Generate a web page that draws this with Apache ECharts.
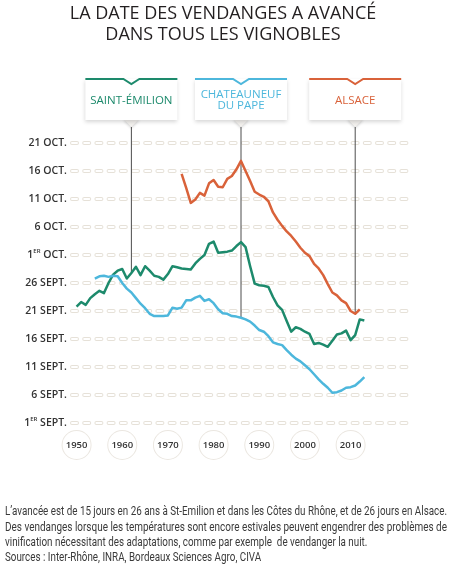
<!DOCTYPE html>
<html><head><meta charset="utf-8">
<script src="https://cdn.jsdelivr.net/npm/echarts@6/dist/echarts.min.js"></script>
<style>html,body{margin:0;padding:0;background:#fff}#c{width:460px;height:569px}</style>
</head><body><div id="c"></div>
<script>
// ---- DATA (day of harvest, counted from 1 Sept = 1) ----
const years = [1950,1951,1952,1953,1954,1955,1956,1957,1958,1959,
  1960,1961,1962,1963,1964,1965,1966,1967,1968,1969,
  1970,1971,1972,1973,1974,1975,1976,1977,1978,1979,
  1980,1981,1982,1983,1984,1985,1986,1987,1988,1989,
  1990,1991,1992,1993,1994,1995,1996,1997,1998,1999,
  2000,2001,2002,2003,2004,2005,2006,2007,2008,2009,
  2010,2011,2012,2013];
const stEmilion = [21.8,22.6,22.1,23.3,24.0,24.6,24.2,26.0,27.5,28.2,
  28.5,26.8,27.8,28.9,27.4,29.0,28.2,27.3,27.1,26.6,
  27.6,29.0,28.8,28.6,28.5,28.4,29.5,30.3,31.0,33.0,
  33.4,31.4,31.5,31.6,31.8,32.6,33.3,32.4,29.0,25.9,
  25.6,25.5,25.3,23.5,22.0,21.2,19.2,17.3,18.1,17.8,
  17.3,16.9,15.1,15.3,15.0,14.6,15.7,16.8,17.0,17.5,
  15.8,16.7,19.5,19.3];
const chateauneuf = [null,null,null,null,26.8,27.2,27.3,27.1,27.3,27.2,
  26.0,25.0,24.3,23.3,22.3,21.5,20.5,20.1,20.1,20.1,
  20.2,21.6,21.4,21.6,22.9,22.9,23.4,23.7,22.8,23.1,
  22.4,21.3,20.6,20.5,20.1,20.0,19.8,19.5,19.1,18.4,
  17.6,17.3,16.5,15.4,15.1,14.9,14.0,13.2,12.5,12.0,
  11.3,10.6,9.7,8.8,8.0,7.3,6.4,6.5,6.8,7.3,
  7.4,7.7,8.4,9.2];
const alsace = [null,null,null,null,null,null,null,null,null,null,
  null,null,null,null,null,null,null,null,null,null,
  null,null,null,45.5,43.0,40.3,40.9,42.1,41.6,43.8,
  44.4,43.2,43.1,44.6,45.1,46.3,47.8,46.0,44.2,42.3,
  41.8,41.4,40.6,38.6,37.3,36.2,35.2,34.4,33.4,32.3,
  31.4,30.8,29.4,28.6,27.4,25.8,24.3,23.8,22.9,22.4,
  21.0,20.5,21.3,null];
const yTickValues = [1,6,11,16,21,26,31,36,41,46,51];
const yTickLabels = ['1ER SEPT.','6 SEPT.','11 SEPT.','16 SEPT.','21 SEPT.','26 SEPT.',
  '1ER OCT.','6 OCT.','11 OCT.','16 OCT.','21 OCT.'];
const xTickLabels = [1950,1960,1970,1980,1990,2000,2010];
const seriesNames = ['SAINT-ÉMILION','CHATEAUNEUF\nDU PAPE','ALSACE'];
const seriesColors = ['#1d8a6c','#4db7dc','#d9623a'];
const calloutYears = [1962,1986,2011];
const titleLines = ['LA DATE DES VENDANGES A AVANCÉ','DANS TOUS LES VIGNOBLES'];
const notes = [
  'L’avancée est de 15 jours en 26 ans à St-Emilion et dans les Côtes du Rhône, et de 26 jours en Alsace.',
  'Des vendanges lorsque les températures sont encore estivales peuvent engendrer des problèmes de',
  'vinification nécessitant des adaptations, comme par exemple  de vendanger la nuit.',
  'Sources : Inter-Rhône, INRA, Bordeaux Sciences Agro, CIVA'
];
const allSeries = [stEmilion, chateauneuf, alsace];

// ---- CHART ----
const chart = echarts.init(document.getElementById('c'), null, {renderer:'canvas'});
function yLabel(v){
  const i = yTickValues.indexOf(v);
  if (i < 0) return '';
  const t = yTickLabels[i];
  const m = t.match(/^(\d+)ER (.*)$/);
  if (m) return '{n|' + m[1] + '}{s|ER}{n| ' + m[2] + '}';
  return '{n|' + t + '}';
}
const gridDash = [5,7.2];
const option = {
  animation:false,
  backgroundColor:'#fff',
  grid:{left:72, right:50, top:143, bottom:146, containLabel:false, outerBoundsMode:'none'},
  xAxis:{type:'value', min:1949, max:2023,
    axisLine:{show:false}, axisTick:{show:false}, splitLine:{show:false},
    axisLabel:{customValues:xTickLabels, margin:8,
      formatter:v=>'{c|'+v+'}',
      rich:{c:{width:28,height:28,lineHeight:28,align:'center',borderRadius:14,borderColor:'#ebe7e1',borderWidth:1,
        backgroundColor:'#fff',fontSize:9.5,fontWeight:600,fontFamily:'Open Sans',color:'#333'}}}},
  yAxis:[
    {type:'value', min:1, max:51, interval:5,
      axisLine:{show:false}, axisTick:{show:false},
      axisLabel:{margin:5, formatter:yLabel,
        rich:{n:{fontSize:10.5,fontWeight:600,fontFamily:'Open Sans',color:'#333',lineHeight:14},
              s:{fontSize:6,fontWeight:600,fontFamily:'Open Sans',color:'#333',lineHeight:8,verticalAlign:'top',padding:[0,0,5,0]}}},
      splitLine:{show:true, lineStyle:{color:'#e6e1d8', width:4, type:gridDash, cap:'round'}}},
    {type:'value', min:1, max:51, interval:5, position:'left',
      axisLine:{show:false}, axisTick:{show:false}, axisLabel:{show:false},
      splitLine:{show:true, lineStyle:{color:'#ffffff', width:2, type:gridDash, cap:'round'}}}
  ],
  series: allSeries.map((arr,k)=>({
    type:'line', name:seriesNames[k], yAxisIndex:0, symbol:'none',
    data: years.map((y,i)=>[y, arr[i]]),
    lineStyle:{color:seriesColors[k], width:2.5, join:'round'},
    itemStyle:{color:seriesColors[k]}, z:3+k
  }))
};
chart.setOption(option);

// ---- annotations (positions from chart scales) ----
const ctx = document.createElement('canvas').getContext('2d');
function tw(t, font){ ctx.font = font; return ctx.measureText(t).width; }
const g = [];
g.push({type:'text', x:223, y:3, style:{text:titleLines.join('\n'), font:'18px "Open Sans"', fill:'#231f20', align:'center', verticalAlign:'top', lineHeight:21}});
const boxTop = 79, boxBottom = 120, tip = 127, halfW = 46;
calloutYears.forEach((yr,k)=>{
  const v = allSeries[k][years.indexOf(yr)];
  const p = chart.convertToPixel({xAxisIndex:0, yAxisIndex:0}, [yr, v]);
  const cx = p[0];
  g.push({type:'polygon', shape:{points:[[cx-8,boxBottom-1],[cx+8,boxBottom-1],[cx,tip]]}, style:{fill:'#f3f1ee', shadowBlur:3, shadowColor:'rgba(0,0,0,0.2)', shadowOffsetY:1}, z:10});
  g.push({type:'rect', shape:{x:cx-halfW, y:boxTop, width:halfW*2, height:boxBottom-boxTop}, style:{fill:'#fff', shadowBlur:4, shadowColor:'rgba(0,0,0,0.16)', shadowOffsetY:2}, z:11});
  g.push({type:'polyline', shape:{points:[[cx-halfW,boxTop],[cx-8,boxTop],[cx,boxTop+5],[cx+8,boxTop],[cx+halfW,boxTop]]}, style:{stroke:seriesColors[k], lineWidth:2, fill:null}, z:12});
  g.push({type:'text', x:cx, y:(boxTop+boxBottom)/2+1, style:{text:seriesNames[k], font:'11.5px "Open Sans"', fill:seriesColors[k], align:'center', verticalAlign:'middle', lineHeight:11}, z:12});
  g.push({type:'line', shape:{x1:cx, y1:tip, x2:cx, y2:p[1]}, style:{stroke:'#4d4d4d', lineWidth:1}, z:2});
});
const noteFont = '13px Roboto';
const noteYs = [512, 528, 543, 558];
const s1 = 442 / tw(notes[0], noteFont);
notes.forEach((t,i)=>{
  const s = (i===1) ? 442 / tw(t, noteFont) : s1;
  g.push({type:'text', x:5, y:noteYs[i], scaleX:s, style:{text:t, font:noteFont, fill:'#3a3a3a', align:'left', verticalAlign:'middle'}});
});
chart.setOption({graphic:g});
</script></body></html>
